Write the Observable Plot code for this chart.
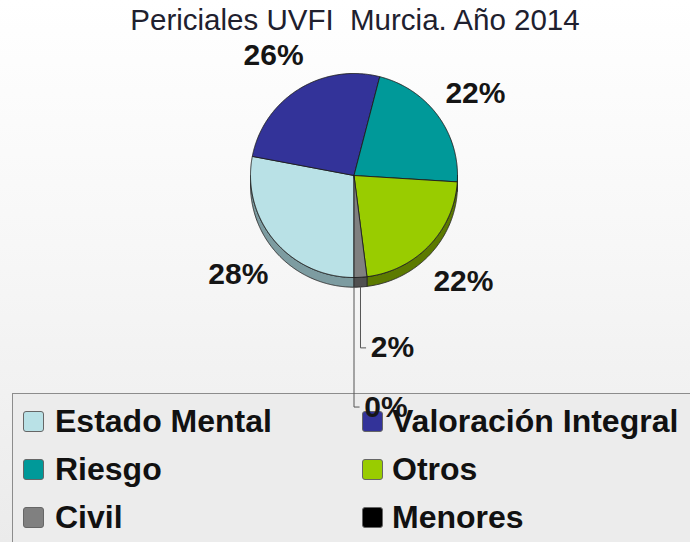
<!DOCTYPE html>
<html>
<head>
<meta charset="utf-8">
<script src="https://cdn.jsdelivr.net/npm/d3@7"></script>
<script src="https://cdn.jsdelivr.net/npm/@observablehq/plot@0.6"></script>
<style>
  body { margin: 0; }
  #wrap { position: relative; width: 690px; height: 542px; overflow: hidden;
          background: linear-gradient(#ffffff 0%, #f7f7f7 45%, #ebebeb 100%);
          font-family: "Liberation Sans", Arial, sans-serif; }
  #title { position: absolute; left: 0; width: 710px; top: 5px; text-align: center;
           font-size: 29.5px; line-height: 1; color: #20202e; white-space: pre; }
  #legend { position: absolute; left: 12px; top: 393px; width: 700px; height: 200px;
            border: 1.5px solid #8c8c8c; background: #ececec; }
  .lt { position: absolute; font-weight: bold; font-size: 32px; line-height: 1; color: #111; white-space: nowrap; }
  .sw { position: absolute; width: 19px; height: 19px; border: 1.5px solid #666; border-radius: 3px; }
  #chart { position: absolute; left: 0; top: 0; }
</style>
</head>
<body>
<div id="wrap">
  <div id="title"></div>
  <div id="legend"></div>
  <div id="chart"></div>
</div>
<script>
const chartTitle = "Periciales UVFI  Murcia. Año 2014";
const categories = ["Estado Mental", "Valoración Integral", "Riesgo", "Otros", "Civil", "Menores"];
const values = [28, 26, 22, 22, 2, 0];
const percentLabels = ["28%", "26%", "22%", "22%", "2%", "0%"];
const colors = ["#b9e1e6", "#333399", "#009999", "#99cc00", "#808080", "#000000"];
const sideColors = ["#7d9ca1", "#1f1f66", "#006666", "#5c7a00", "#505050", "#000000"];

document.getElementById("title").textContent = chartTitle;

// Legend (HTML, two columns)
const wrap = document.getElementById("wrap");
categories.forEach((c, i) => {
  const col = i % 2, row = Math.floor(i / 2);
  const sw = document.createElement("div");
  sw.className = "sw";
  sw.style.left = (col ? 362 : 23) + "px";
  sw.style.top = (411 + row * 48) + "px";
  sw.style.background = colors[i];
  wrap.appendChild(sw);
  const t = document.createElement("div");
  t.className = "lt";
  t.style.left = (col ? 392 : 55) + "px";
  t.style.top = (405 + row * 48) + "px";
  t.textContent = c;
  wrap.appendChild(t);
});
// keep chart on top
wrap.appendChild(document.getElementById("chart"));

// Pie geometry in unit coordinates
const arcs = d3.pie().sort(null).startAngle(Math.PI).endAngle(3 * Math.PI)(values);
const depth = 0.095;
function arcPts(a0, a1, dv = 0) {
  const n = Math.max(2, Math.ceil((a1 - a0) / 0.01));
  return d3.range(n + 1).map(k => {
    const t = a0 + (a1 - a0) * k / n;
    return {u: Math.sin(t), v: -Math.cos(t) + dv};
  });
}
const faces = arcs.filter(a => a.value > 0).map(a => ({
  i: a.index,
  pts: [{u: 0, v: 0}, ...arcPts(a.startAngle, a.endAngle), {u: 0, v: 0}]
}));
const visible = [[Math.PI, 1.5 * Math.PI], [2.5 * Math.PI, 3 * Math.PI]];
const walls = [];
arcs.forEach(a => visible.forEach(([lo, hi]) => {
  const s = Math.max(lo, a.startAngle), e = Math.min(hi, a.endAngle);
  if (e > s) {
    const top = arcPts(s, e);
    const bot = arcPts(s, e, depth).reverse();
    walls.push({i: a.index, pts: [...top, ...bot, top[0]]});
  }
}));

// Labels
const bigLabels = [];
const leaders = [];
const smallLabels = [];
const smallLevels = [1.69, 2.27];
let smallK = 0;
arcs.forEach(a => {
  const mid = (a.startAngle + a.endAngle) / 2;
  if (a.value >= 5) {
    bigLabels.push({u: 1.45 * Math.sin(mid), v: -1.45 * Math.cos(mid) + 0.05, text: percentLabels[a.index]});
  } else {
    const ux = Math.sin(mid), vl = smallLevels[smallK++];
    leaders.push([{u: ux, v: -Math.cos(mid) + depth}, {u: ux, v: vl}, {u: ux + 0.05, v: vl}]);
    smallLabels.push({u: ux + 0.1, v: vl, text: percentLabels[a.index]});
  }
});

const plot = Plot.plot({
  width: 690,
  height: 542,
  margin: 0,
  x: {domain: [-1, 1], range: [250, 457], axis: null},
  y: {domain: [-1, 1], range: [73, 277], axis: null},
  style: {background: "transparent", overflow: "visible"},
  marks: [
    ...walls.map(w => Plot.line(w.pts, {x: "u", y: "v", fill: sideColors[w.i], stroke: "#2a2a2a", strokeWidth: 0.9})),
    ...faces.map(f => Plot.line(f.pts, {x: "u", y: "v", fill: colors[f.i], stroke: "#1e1e1e", strokeWidth: 0.9})),
    ...leaders.map(l => Plot.line(l, {x: "u", y: "v", stroke: "#555", strokeWidth: 1})),
    Plot.text(bigLabels, {x: "u", y: "v", text: "text", fontSize: 30, fontWeight: "bold",
      fontFamily: "Liberation Sans, Arial, sans-serif", fill: "#151515", textAnchor: "middle"}),
    Plot.text(smallLabels, {x: "u", y: "v", text: "text", fontSize: 30, fontWeight: "bold",
      fontFamily: "Liberation Sans, Arial, sans-serif", fill: "#151515", textAnchor: "start"})
  ]
});
document.getElementById("chart").appendChild(plot);
</script>
</body>
</html>
